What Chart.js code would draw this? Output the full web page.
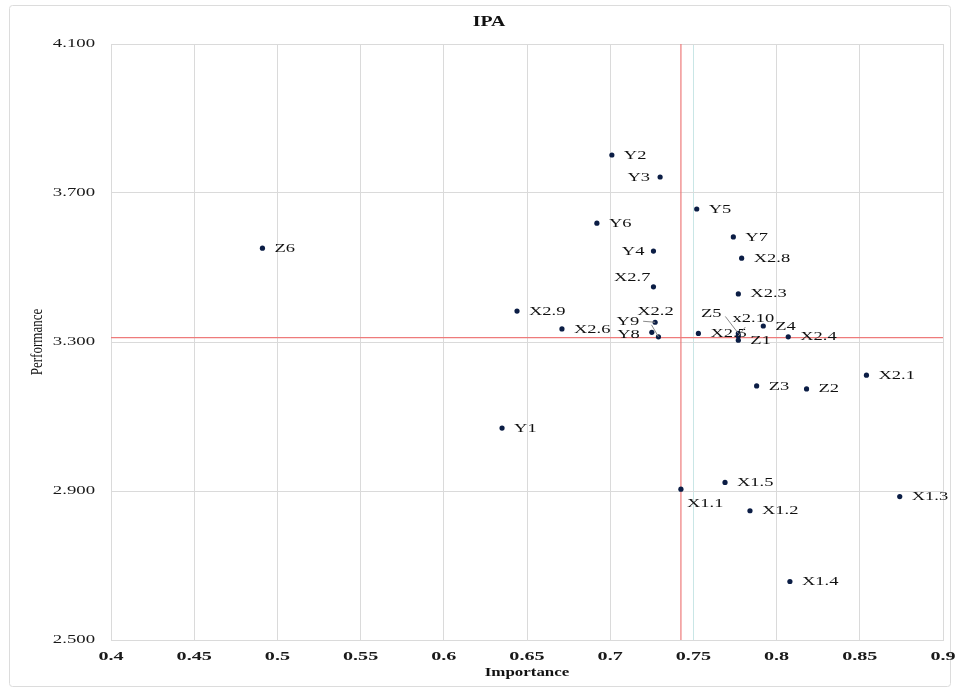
<!DOCTYPE html>
<html>
<head>
<meta charset="utf-8">
<title>IPA</title>
<script src="https://cdn.jsdelivr.net/npm/chart.js@4/dist/chart.umd.min.js"></script>
<style>
  html, body { margin: 0; padding: 0; background: #ffffff; }
  #wrap { width: 958px; height: 689px; position: relative; }
</style>
</head>
<body>
<div id="wrap"><canvas id="ipa" width="958" height="689"></canvas></div>
<script>
// Attribute names and their (importance, performance) scores
const categories = ['Z6','Y2','Y3','Y5','Y6','Y7','Y4','X2.8','X2.7','X2.3','X2.9','X2.6','Y9','Y8','X2.2','X2.5','Z5','x2.10','Z1','Z4','X2.4','X2.1','Z3','Z2','Y1','X1.5','X1.1','X1.3','X1.2','X1.4'];
const importance = [0.491,0.701,0.730,0.752,0.692,0.774,0.726,0.779,0.726,0.777,0.644,0.671,0.727,0.725,0.729,0.753,0.777,0.777,0.777,0.792,0.807,0.854,0.788,0.818,0.635,0.769,0.7425,0.874,0.784,0.808];
const performance = [3.552,3.802,3.743,3.657,3.619,3.582,3.544,3.525,3.448,3.429,3.383,3.335,3.353,3.326,3.314,3.323,3.323,3.316,3.305,3.343,3.314,3.211,3.182,3.174,3.069,2.923,2.905,2.885,2.847,2.657];

// Quadrant dividers (average importance / average performance)
const meanImportance = 0.7425;
const meanPerformance = 3.312;

// Axis ticks
const xTicks = [0.4,0.45,0.5,0.55,0.6,0.65,0.7,0.75,0.8,0.85,0.9];
const xTickLabels = ['0.4','0.45','0.5','0.55','0.6','0.65','0.7','0.75','0.8','0.85','0.9'];
const yTicks = [2.5,2.9,3.3,3.7,4.1];
const yTickLabels = ['2.500','2.900','3.300','3.700','4.100'];

// Label placement around each marker: [dx, dy, align, leaderFromDx, leaderFromDy]
const labelPlace = {
  'Y3':   [-10, 0, 'right'],
  'Y4':   [-9, 0, 'right'],
  'X2.7': [-3, -9, 'right'],
  'Y9':   [-16, -1, 'right', -12, -1],
  'Y8':   [-12, 2, 'right'],
  'X2.2': [-3, -25, 'center', -7, -12],
  'Z5':   [-27, -20, 'center', -13, -17],
  'x2.10':[15, -18, 'center', 7, -9],
  'X1.1': [6, 14, 'left']
};

const serif = '"Liberation Serif", "Times New Roman", serif';

function stretchedText(ctx, text, x, y, font, align, sx, color) {
  ctx.save();
  ctx.translate(x, y);
  ctx.scale(sx, 1);
  ctx.font = font;
  ctx.fillStyle = color || '#111111';
  ctx.textAlign = align;
  ctx.textBaseline = 'middle';
  ctx.fillText(text, 0, 0);
  ctx.restore();
}

const textPlugin = {
  id: 'ipaText',
  beforeDraw(chart) {
    const ctx = chart.ctx;
    ctx.save();
    ctx.fillStyle = '#ffffff';
    ctx.fillRect(0, 0, chart.width, chart.height);
    ctx.strokeStyle = '#dcdcdc';
    ctx.lineWidth = 1;
    ctx.beginPath();
    ctx.roundRect(9.5, 5.5, 941, 681, 3);
    ctx.stroke();
    ctx.restore();
  },
  afterDraw(chart) {
    const ctx = chart.ctx;
    const xs = chart.scales.x, ys = chart.scales.y;
    const area = chart.chartArea;
    // tick labels
    xs.ticks.forEach((t, i) => {
      stretchedText(ctx, xTickLabels[i], xs.getPixelForValue(t.value), area.bottom + 17,
        'bold 13px ' + serif, 'center', 1.55, '#1a1a1a');
    });
    ys.ticks.forEach((t, i) => {
      stretchedText(ctx, yTickLabels[i], area.left - 16, ys.getPixelForValue(t.value),
        '12.5px ' + serif, 'right', 1.5, '#1a1a1a');
    });
    // title and axis titles
    stretchedText(ctx, 'IPA', 489, 22, 'bold 15px ' + serif, 'center', 1.32, '#111');
    stretchedText(ctx, 'Importance', 527, 673, 'bold 13px ' + serif, 'center', 1.3, '#111');
    ctx.save();
    ctx.translate(37, 342);
    ctx.rotate(-Math.PI / 2);
    ctx.scale(1, 1.35);
    ctx.font = '13px ' + serif;
    ctx.fillStyle = '#111';
    ctx.textAlign = 'center';
    ctx.textBaseline = 'middle';
    ctx.fillText('Performance', 0, 0);
    ctx.restore();
  },
  afterDatasetsDraw(chart) {
    const ctx = chart.ctx;
    const meta = chart.getDatasetMeta(0);
    meta.data.forEach((el, i) => {
      const name = categories[i];
      const p = labelPlace[name] || [12, 0, 'left'];
      if (p.length > 3) {
        ctx.save();
        ctx.strokeStyle = '#8a8a8a';
        ctx.lineWidth = 1;
        ctx.beginPath();
        ctx.moveTo(el.x + p[3], el.y + p[4]);
        ctx.lineTo(el.x, el.y);
        ctx.stroke();
        ctx.restore();
      }
      stretchedText(ctx, name, el.x + p[0], el.y + p[1], '13.5px ' + serif, p[2], 1.37, '#111');
    });
  }
};

const points = categories.map((c, i) => ({ x: importance[i], y: performance[i] }));

new Chart(document.getElementById('ipa'), {
  type: 'scatter',
  data: {
    datasets: [
      {
        label: 'Attributes',
        data: points,
        order: 0,
        pointRadius: 2.6,
        pointHoverRadius: 2.6,
        pointBackgroundColor: '#0b1d45',
        pointBorderColor: '#0b1d45',
        pointBorderWidth: 0
      },
      {
        label: 'Mean importance',
        type: 'line',
        data: [{ x: meanImportance, y: 2.5 }, { x: meanImportance, y: 4.1 }],
        order: 1,
        borderColor: '#ee7b7b',
        borderWidth: 1.2,
        pointRadius: 0,
        showLine: true,
        fill: false
      },
      {
        label: 'Mean performance',
        type: 'line',
        data: [{ x: 0.4, y: meanPerformance }, { x: 0.9, y: meanPerformance }],
        order: 1,
        borderColor: '#ee7b7b',
        borderWidth: 1.2,
        pointRadius: 0,
        showLine: true,
        fill: false
      }
    ]
  },
  options: {
    responsive: false,
    devicePixelRatio: 1,
    animation: false,
    events: [],
    layout: { padding: { left: 0, right: 15, top: 44, bottom: 0 } },
    plugins: {
      legend: { display: false },
      title: { display: false },
      tooltip: { enabled: false }
    },
    scales: {
      x: {
        type: 'linear',
        min: 0.4,
        max: 0.9,
        afterBuildTicks(scale) { scale.ticks = xTicks.map(v => ({ value: v })); },
        afterFit(scale) { scale.height = 49; },
        ticks: { display: false },
        grid: {
          drawTicks: false,
          color: c => (c.tick && Math.abs(c.tick.value - 0.75) < 1e-6) ? '#c9e6e6' : '#dadada',
          lineWidth: 1
        },
        border: { display: true, color: '#dadada' }
      },
      y: {
        type: 'linear',
        min: 2.5,
        max: 4.1,
        afterBuildTicks(scale) { scale.ticks = yTicks.map(v => ({ value: v })); },
        afterFit(scale) { scale.width = 111; },
        ticks: { display: false },
        grid: { drawTicks: false, color: '#dadada', lineWidth: 1 },
        border: { display: true, color: '#dadada' }
      }
    }
  },
  plugins: [textPlugin]
});
</script>
</body>
</html>
